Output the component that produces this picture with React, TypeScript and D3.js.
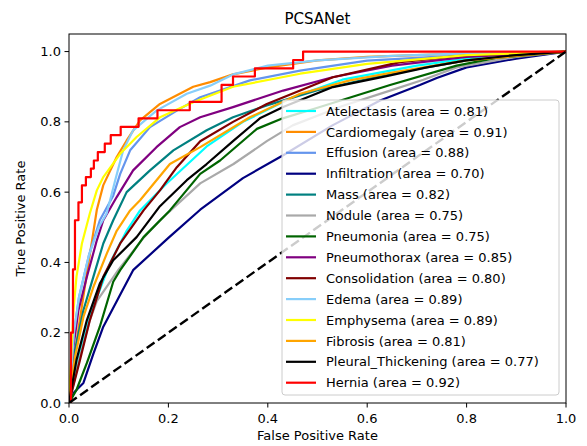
import React from 'react';
import * as d3 from 'd3';

// ROC curves, [fpr, tpr]
const categories = [
  'Atelectasis', 'Cardiomegaly', 'Effusion', 'Infiltration', 'Mass', 'Nodule', 'Pneumonia',
  'Pneumothorax', 'Consolidation', 'Edema', 'Emphysema', 'Fibrosis', 'Pleural_Thickening', 'Hernia',
];
const aucValues = [0.81, 0.91, 0.88, 0.70, 0.82, 0.75, 0.75, 0.85, 0.80, 0.89, 0.89, 0.81, 0.77, 0.92];

const atelectasis = [[0, 0], [0.02, 0.13], [0.04, 0.24], [0.083, 0.4], [0.116, 0.49], [0.143, 0.548], [0.196, 0.624], [0.277, 0.73], [0.35, 0.8], [0.45, 0.87], [0.55, 0.92], [0.7, 0.96], [0.85, 0.99], [1, 1]];
const cardiomegaly = [[0, 0], [0.01, 0.12], [0.02, 0.22], [0.035, 0.36], [0.045, 0.45], [0.056, 0.55], [0.069, 0.62], [0.096, 0.7], [0.116, 0.747], [0.143, 0.804], [0.183, 0.851], [0.25, 0.9], [0.284, 0.913], [0.33, 0.935], [0.4, 0.955], [0.5, 0.975], [0.6, 0.985], [0.8, 0.995], [1, 1]];
const effusion = [[0, 0], [0.01, 0.2], [0.02, 0.3], [0.04, 0.42], [0.062, 0.52], [0.089, 0.59], [0.103, 0.652], [0.123, 0.719], [0.163, 0.785], [0.217, 0.832], [0.264, 0.87], [0.364, 0.918], [0.465, 0.946], [0.6, 0.974], [0.8, 0.99], [1, 1]];
const infiltration = [[0, 0], [0.01, 0.03], [0.029, 0.057], [0.049, 0.14], [0.069, 0.217], [0.1, 0.3], [0.129, 0.378], [0.2, 0.47], [0.264, 0.55], [0.35, 0.64], [0.431, 0.705], [0.53, 0.79], [0.626, 0.861], [0.706, 0.905], [0.74, 0.925], [0.8, 0.955], [0.9, 0.98], [1, 1]];
const mass = [[0, 0], [0.012, 0.15], [0.029, 0.264], [0.049, 0.359], [0.069, 0.454], [0.089, 0.52], [0.116, 0.6], [0.163, 0.662], [0.21, 0.719], [0.277, 0.776], [0.33, 0.813], [0.398, 0.847], [0.5, 0.89], [0.646, 0.937], [0.8, 0.975], [1, 1]];
const nodule = [[0, 0], [0.01, 0.06], [0.02, 0.12], [0.042, 0.236], [0.056, 0.29], [0.1, 0.38], [0.15, 0.47], [0.183, 0.52], [0.264, 0.625], [0.331, 0.68], [0.398, 0.745], [0.45, 0.79], [0.55, 0.845], [0.646, 0.889], [0.713, 0.92], [0.78, 0.955], [0.9, 0.985], [1, 1]];
const pneumonia = [[0, 0], [0.015, 0.037], [0.036, 0.114], [0.062, 0.217], [0.089, 0.345], [0.103, 0.378], [0.15, 0.472], [0.203, 0.548], [0.264, 0.652], [0.304, 0.69], [0.378, 0.78], [0.43, 0.81], [0.5, 0.84], [0.646, 0.905], [0.78, 0.96], [0.86, 0.982], [1, 1]];
const pneumothorax = [[0, 0], [0.008, 0.15], [0.019, 0.264], [0.036, 0.359], [0.056, 0.463], [0.069, 0.52], [0.096, 0.586], [0.129, 0.662], [0.176, 0.728], [0.223, 0.785], [0.264, 0.813], [0.33, 0.842], [0.431, 0.889], [0.53, 0.927], [0.65, 0.96], [0.8, 0.985], [1, 1]];
const consolidation = [[0, 0], [0.022, 0.122], [0.042, 0.236], [0.069, 0.359], [0.103, 0.454], [0.15, 0.548], [0.183, 0.605], [0.217, 0.671], [0.264, 0.745], [0.33, 0.8], [0.398, 0.851], [0.531, 0.927], [0.666, 0.97], [0.8, 0.99], [1, 1]];
const edema = [[0, 0], [0.01, 0.2], [0.02, 0.3], [0.04, 0.42], [0.06, 0.5], [0.076, 0.54], [0.093, 0.634], [0.109, 0.719], [0.129, 0.776], [0.176, 0.832], [0.237, 0.88], [0.284, 0.903], [0.33, 0.935], [0.4, 0.96], [0.5, 0.975], [0.65, 0.988], [0.8, 0.995], [1, 1]];
const emphysema = [[0, 0], [0.005, 0.15], [0.009, 0.264], [0.015, 0.359], [0.026, 0.454], [0.042, 0.54], [0.056, 0.605], [0.069, 0.643], [0.103, 0.709], [0.136, 0.757], [0.183, 0.813], [0.25, 0.856], [0.33, 0.9], [0.465, 0.937], [0.6, 0.965], [0.8, 0.99], [1, 1]];
const fibrosis = [[0, 0], [0.012, 0.13], [0.029, 0.245], [0.049, 0.33], [0.076, 0.425], [0.096, 0.49], [0.123, 0.548], [0.143, 0.577], [0.203, 0.68], [0.264, 0.728], [0.364, 0.813], [0.465, 0.88], [0.565, 0.918], [0.65, 0.94], [0.8, 0.975], [1, 1]];
const pleuralThickening = [[0, 0], [0.015, 0.122], [0.036, 0.236], [0.062, 0.34], [0.089, 0.406], [0.136, 0.472], [0.183, 0.56], [0.237, 0.634], [0.277, 0.68], [0.33, 0.745], [0.384, 0.81], [0.431, 0.842], [0.531, 0.899], [0.639, 0.93], [0.72, 0.955], [0.8, 0.975], [0.9, 0.99], [1, 1]];
// hernia is a step curve (few positives)
const hernia = [[0, 0], [0.004, 0.2], [0.008, 0.38], [0.012, 0.52], [0.019, 0.571], [0.026, 0.619], [0.034, 0.643], [0.044, 0.667], [0.05, 0.69], [0.058, 0.714], [0.072, 0.738], [0.084, 0.762], [0.104, 0.786], [0.14, 0.81], [0.178, 0.833], [0.243, 0.857], [0.307, 0.905], [0.33, 0.929], [0.374, 0.952], [0.451, 0.976], [0.471, 1], [1, 1]];

const rocData = [atelectasis, cardiomegaly, effusion, infiltration, mass, nodule, pneumonia,
  pneumothorax, consolidation, edema, emphysema, fibrosis, pleuralThickening, hernia];
const colors = ['#00ffff', '#ff8c00', '#6495ed', '#000080', '#008080', '#a9a9a9', '#006400',
  '#800080', '#800000', '#87cefa', '#ffff00', '#ffa500', '#000000', '#ff0000'];
const tickValues = [0, 0.2, 0.4, 0.6, 0.8, 1.0];

const W = 587;
const H = 446;
const FONT = 'DejaVu Sans, sans-serif';

export default function App() {
  const x = d3.scaleLinear().domain([0, 1]).range([69, 566]);
  const y = d3.scaleLinear().domain([0, 1.05]).range([403, 34]);

  const line = d3.line<number[]>().x((d) => x(d[0])).y((d) => y(d[1]));
  const stepLine = d3.line<number[]>().x((d) => x(d[0])).y((d) => y(d[1])).curve(d3.curveStepAfter);

  const legX = 282;
  const legY = 100;
  const rowH = 20.9;

  return (
    <svg width={W} height={H} style={{ position: 'absolute', left: 0, top: 0 }} fontFamily={FONT}>
      <rect width={W} height={H} fill="#fff" />
      <defs>
        <clipPath id="plot">
          <rect x={x(0)} y={y(1.05)} width={x(1) - x(0)} height={y(0) - y(1.05)} />
        </clipPath>
      </defs>

      <g clipPath="url(#plot)">
        {rocData.map((d, i) => (
          <path key={categories[i]} d={(categories[i] === 'Hernia' ? stepLine : line)(d) || ''}
            fill="none" stroke={colors[i]} strokeWidth={2.2} strokeLinejoin="round" />
        ))}
        <line x1={x(0)} y1={y(0)} x2={x(1)} y2={y(1)} stroke="#000" strokeWidth={2.4} strokeDasharray="9.5,4.1" />
      </g>

      {/* frame */}
      <rect x={x(0)} y={y(1.05)} width={x(1) - x(0)} height={y(0) - y(1.05)} fill="none" stroke="#000" strokeWidth={1} />

      {tickValues.map((t) => (
        <g key={'x' + t}>
          <line x1={x(t)} x2={x(t)} y1={y(0)} y2={y(0) + 4.5} stroke="#000" />
          <text x={x(t)} y={y(0) + 20} textAnchor="middle" fontSize={13} fill="#000">{t.toFixed(1)}</text>
        </g>
      ))}
      {tickValues.map((t) => (
        <g key={'y' + t}>
          <line x1={x(0) - 4.5} x2={x(0)} y1={y(t)} y2={y(t)} stroke="#000" />
          <text x={x(0) - 8} y={y(t) + 4.5} textAnchor="end" fontSize={13} fill="#000">{t.toFixed(1)}</text>
        </g>
      ))}

      <text x={(x(0) + x(1)) / 2} y={24} textAnchor="middle" fontSize={15} fill="#000">PCSANet</text>
      <text x={(x(0) + x(1)) / 2} y={440} textAnchor="middle" fontSize={13} fill="#000">False Positive Rate</text>
      <text transform={`translate(25, ${(y(0) + y(1.05)) / 2}) rotate(-90)`} textAnchor="middle" fontSize={13} fill="#000">True Positive Rate</text>

      {/* legend */}
      <rect x={legX} y={legY} width={277} height={295} rx={3} fill="#fff" fillOpacity={0.8} stroke="#cccccc" />
      {categories.map((c, i) => (
        <g key={'leg' + c} transform={`translate(0, ${legY + 11 + i * rowH})`}>
          <line x1={legX + 4} x2={legX + 34} y1={0} y2={0} stroke={colors[i]} strokeWidth={2.2} />
          <text x={legX + 44} y={4.6} fontSize={13} fill="#000">{`${c} (area = ${aucValues[i].toFixed(2)})`}</text>
        </g>
      ))}
    </svg>
  );
}
